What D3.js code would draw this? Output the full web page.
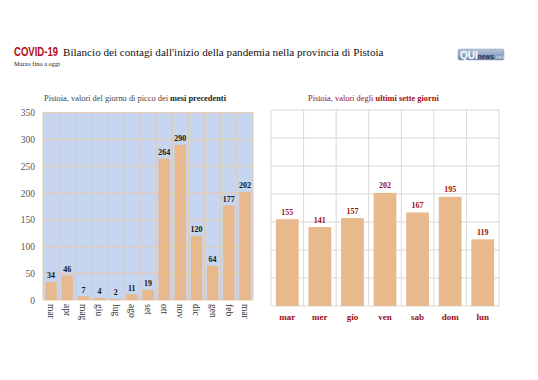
<!DOCTYPE html>
<html><head><meta charset="utf-8">
<script src="https://cdn.jsdelivr.net/npm/d3@7"></script>
<style>body{margin:0;background:#fff}svg{display:block}</style>
</head><body>
<script>
const monthLabels = ["mar","apr","mag","giu","lug","ago","set","ott","nov","dic","gen","feb","mar"];
const monthValues = [34,46,7,4,2,11,19,264,290,120,64,177,202];
const dayLabels = ["mar","mer","gio","ven","sab","dom","lun"];
const dayValues = [155,141,157,202,167,195,119];
const yTicks = [0,50,100,150,200,250,300,350];

const W=538,H=380;
const svg=d3.select("body").append("svg").attr("width",W).attr("height",H);
const serif="'Liberation Serif','Times New Roman',serif";
const barColor="#e8b98d";

// Title
svg.append("text").attr("x",14).attr("y",55.5)
 .attr("font-family","'Liberation Sans',sans-serif").attr("font-weight","bold").attr("fill","#b0101a").attr("font-size",12)
 .attr("textLength",44).attr("lengthAdjust","spacingAndGlyphs").text("COVID-19");
const tt=svg.append("text").attr("x",63).attr("y",55.5).attr("font-family",serif).attr("fill","#111").attr("font-size",13)
 .text("Bilancio dei contagi dall'inizio della pandemia nella provincia di Pistoia");
const tl=tt.node().getComputedTextLength();
tt.attr("font-size",13*321/tl);
svg.append("text").attr("x",14).attr("y",66).attr("font-family",serif).attr("font-size",6.4).attr("fill","#222").text("Marzo fino a oggi");

// Logo
const defs=svg.append("defs");
const lg=defs.append("linearGradient").attr("id","lg").attr("x1",0).attr("y1",0).attr("x2",0).attr("y2",1);
lg.append("stop").attr("offset",0).attr("stop-color","#b7c6dc");
lg.append("stop").attr("offset",1).attr("stop-color","#6f88b0");
svg.append("rect").attr("x",458).attr("y",49).attr("width",46).attr("height",11).attr("rx",1.5).attr("fill","url(#lg)").attr("stroke","#8a9bb8").attr("stroke-width",0.5);
const lt=svg.append("text").attr("x",460).attr("y",58.5).attr("font-family","'Liberation Sans',sans-serif");
lt.append("tspan").attr("font-weight","bold").attr("font-size",10).attr("fill","#fff").text("QUI");
lt.append("tspan").attr("font-size",6.5).attr("font-weight","bold").attr("fill","#1f2f55").text("news");
lt.append("tspan").attr("font-size",6).attr("fill","#dde5f2").text(".net");

// ===== Left chart =====
const L={x0:43,x1:253,y0:112.7,y1:300};
const xL=d3.scaleBand().domain(d3.range(monthLabels.length)).range([L.x0,L.x1]).paddingInner(0.3).paddingOuter(0.15);
const yL=d3.scaleLinear().domain([0,350]).range([L.y1,L.y0]);
const gL=svg.append("g");
gL.append("rect").attr("x",L.x0).attr("y",L.y0).attr("width",L.x1-L.x0).attr("height",L.y1-L.y0).attr("fill","#c6d6f0");
const gridC="#e9c8a8";
gL.selectAll(".hg").data(yTicks).join("line").attr("x1",L.x0).attr("x2",L.x1).attr("y1",d=>yL(d)).attr("y2",d=>yL(d)).attr("stroke",gridC).attr("stroke-width",1);
const stepL=xL.step();
gL.selectAll(".vg").data(d3.range(monthLabels.length+1)).join("line")
 .attr("x1",i=>L.x0+i*stepL).attr("x2",i=>L.x0+i*stepL).attr("y1",L.y0).attr("y2",L.y1).attr("stroke",gridC).attr("stroke-width",1);
gL.selectAll(".bar").data(monthValues).join("rect")
 .attr("x",(d,i)=>xL(i)).attr("width",xL.bandwidth()).attr("y",d=>yL(d)).attr("height",d=>yL(0)-yL(d)).attr("fill",barColor);
gL.selectAll(".vl").data(monthValues).join("text")
 .attr("x",(d,i)=>xL(i)+xL.bandwidth()/2).attr("y",d=>yL(d)-3.5).attr("text-anchor","middle")
 .attr("font-family",serif).attr("font-weight","bold").attr("font-size",8).attr("fill","#151515").text(d=>d);
// y axis
const axL=d3.axisLeft(yL).tickValues(yTicks).tickSize(0).tickPadding(8);
const ga=svg.append("g").attr("transform",`translate(${L.x0},0)`).call(axL);
ga.select(".domain").remove();
ga.selectAll("text").attr("font-family",serif).attr("font-size",9.5).attr("fill","#555");
// x labels rotated
const axX=d3.axisBottom(xL).tickFormat(i=>monthLabels[i]).tickSize(0);
const gx=svg.append("g").attr("transform",`translate(0,${L.y1})`).call(axX);
gx.select(".domain").remove();
gx.selectAll("text").attr("transform","rotate(90)").attr("text-anchor","start").attr("x",4).attr("y",0).attr("dy","0.32em")
 .attr("font-family",serif).attr("font-size",9.5).attr("fill","#333");
// left subtitle
const sl=svg.append("text").attr("x",44).attr("y",101).attr("font-family",serif).attr("font-size",8.4).attr("fill","#444");
sl.append("tspan").text("Pistoia, valori del giorno di picco dei ");
sl.append("tspan").attr("font-weight","bold").attr("fill","#222").text("mesi precedenti");

// ===== Right chart =====
const R={x0:271,x1:499,y0:110,y1:306};
const xR=d3.scaleBand().domain(d3.range(dayLabels.length)).range([R.x0,R.x1]).paddingInner(0.3).paddingOuter(0.15);
const yR=d3.scaleLinear().domain([0,350]).range([R.y1,R.y0]);
const gR=svg.append("g");
const gridR="#d9d9d9";
gR.selectAll(".hg").data(yTicks).join("line").attr("x1",R.x0).attr("x2",R.x1).attr("y1",d=>yR(d)).attr("y2",d=>yR(d)).attr("stroke",gridR);
const stepR=xR.step();
gR.selectAll(".vg").data(d3.range(dayLabels.length+1)).join("line")
 .attr("x1",i=>R.x0+i*stepR).attr("x2",i=>R.x0+i*stepR).attr("y1",R.y0).attr("y2",R.y1).attr("stroke",gridR);
gR.selectAll(".bar").data(dayValues).join("rect")
 .attr("x",(d,i)=>xR(i)).attr("width",xR.bandwidth()).attr("y",d=>yR(d)).attr("height",d=>yR(0)-yR(d)).attr("fill",barColor);
gR.selectAll(".vl").data(dayValues).join("text")
 .attr("x",(d,i)=>xR(i)+xR.bandwidth()/2).attr("y",d=>yR(d)-4.5).attr("text-anchor","middle")
 .attr("font-family",serif).attr("font-weight","bold").attr("font-size",8).attr("fill","#a00d14").text(d=>d);
const axR=d3.axisBottom(xR).tickFormat(i=>dayLabels[i]).tickSize(0).tickPadding(8);
const gxr=svg.append("g").attr("transform",`translate(0,${R.y1})`).call(axR);
gxr.select(".domain").remove();
gxr.selectAll("text").attr("font-family",serif).attr("font-weight","bold").attr("font-size",9).attr("fill","#a00d14");
const sr=svg.append("text").attr("x",308).attr("y",101).attr("font-family",serif).attr("font-size",8.4).attr("fill","#a00d14");
sr.append("tspan").text("Pistoia, valori degli ");
sr.append("tspan").attr("font-weight","bold").text("ultimi sette giorni");
</script>
</body></html>
